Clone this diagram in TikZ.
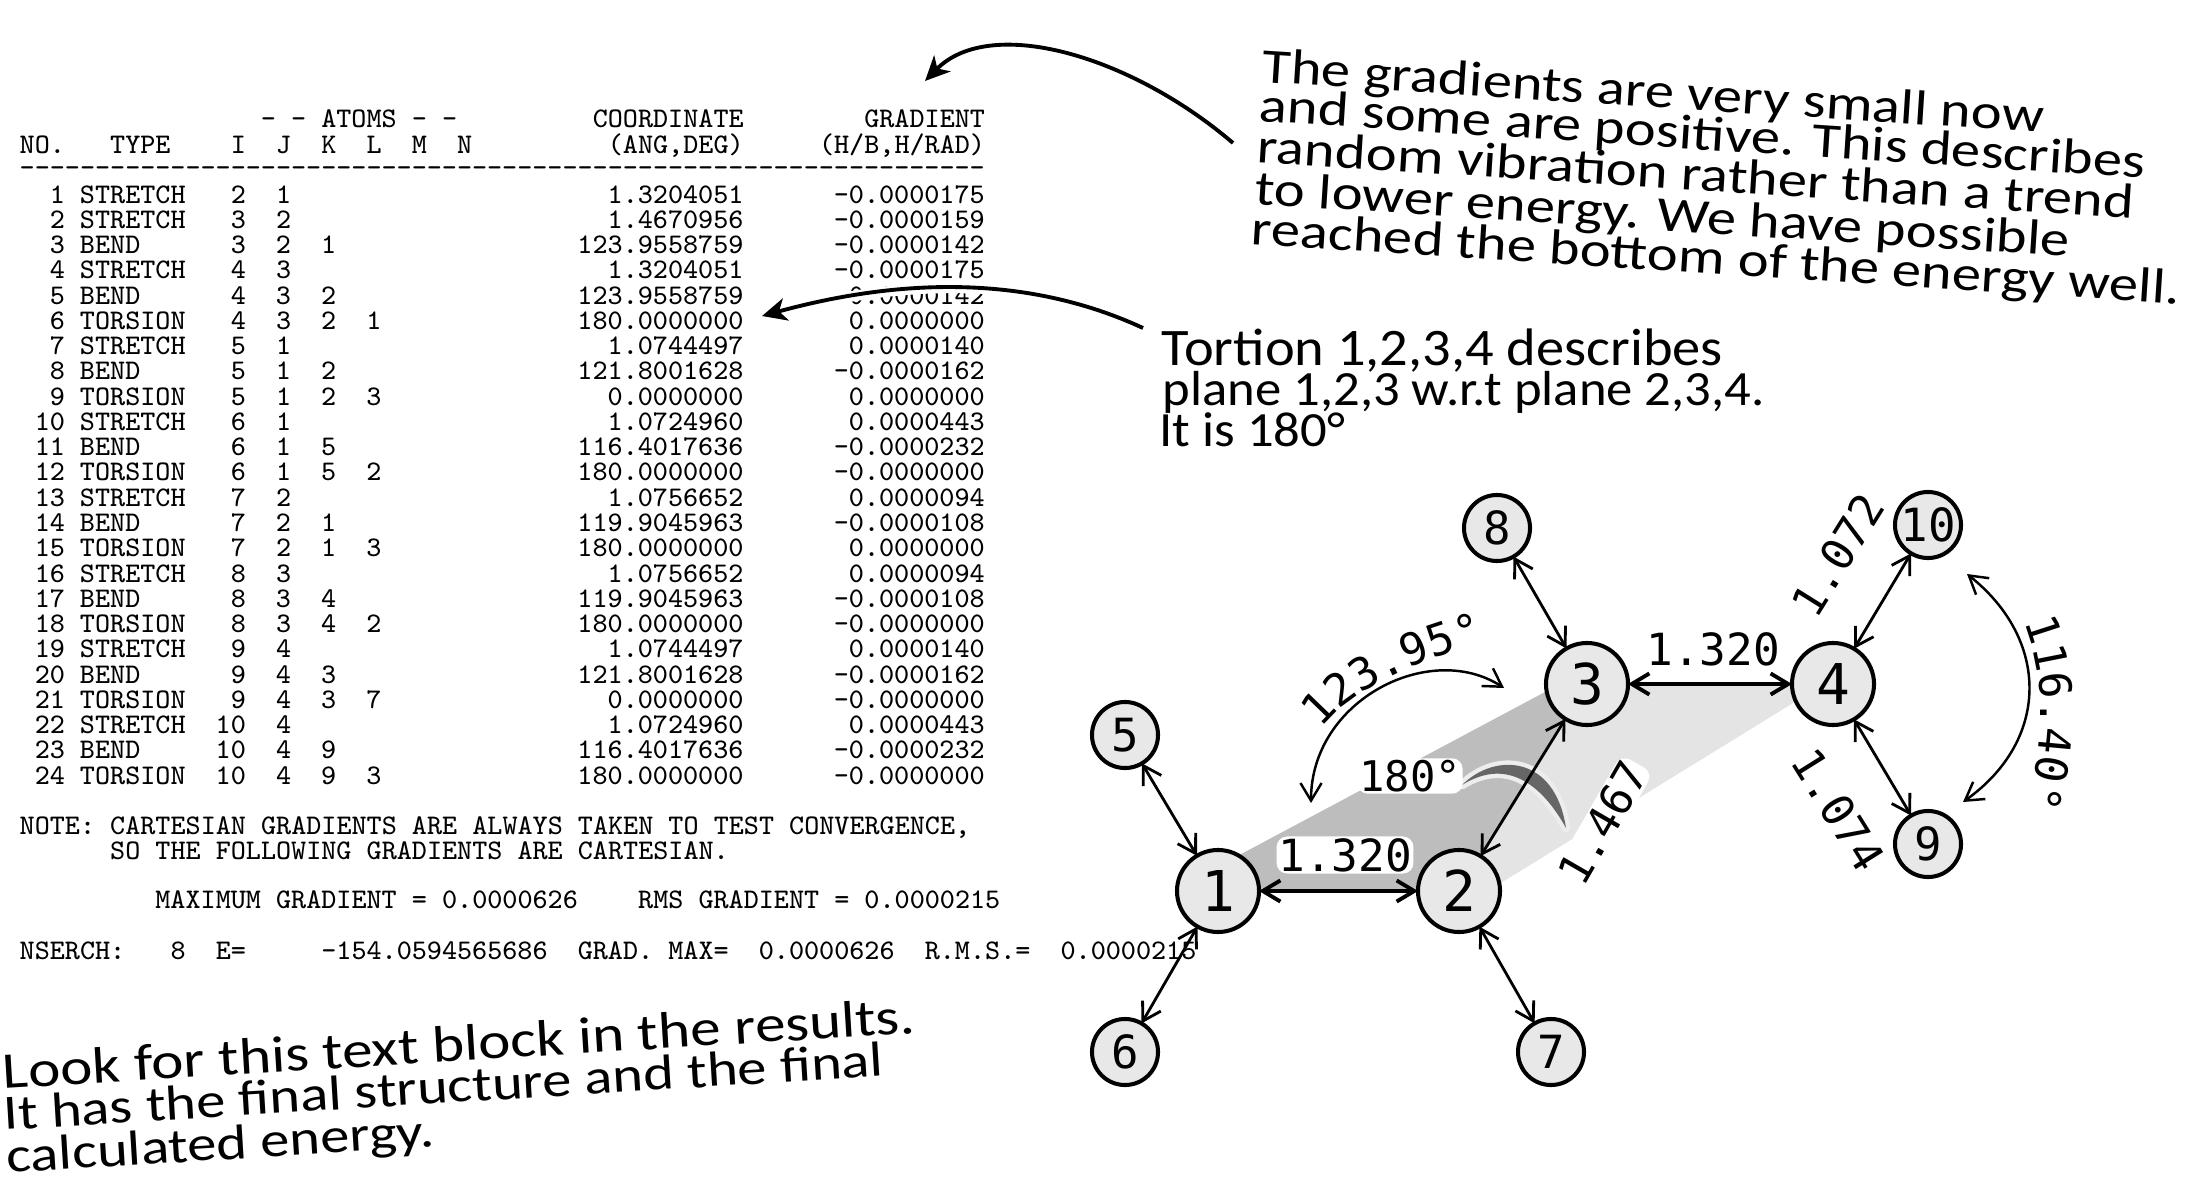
\documentclass[tikz,border=0pt]{standalone}
\usepackage{fontspec}
\usetikzlibrary{arrows.meta}
\usetikzlibrary{backgrounds}
\usetikzlibrary{decorations.text}
\newfontfamily\handfont[FakeStretch=1.19]{Carlito}
\newfontfamily\handtight[FakeStretch=1.07]{Carlito}
\newfontfamily\labelfont{DejaVu Sans Mono}
\definecolor{atomfill}{HTML}{E8E8E8}
\definecolor{planedark}{HTML}{BDBDBD}
\definecolor{planelight}{HTML}{E4E4E4}
\definecolor{twistfill}{HTML}{666666}
\definecolor{twistedge}{HTML}{EDEDED}
\newlength\chw
\setlength\chw{0.1507cm}
\newcommand{\gap}[1]{\hspace*{#1\chw}}
\newcommand{\fldr}[2]{\makebox[#1\chw][r]{#2}}
\newcommand{\fldl}[2]{\makebox[#1\chw][l]{#2}}
\tikzset{
    listing/.style = {anchor=base west, inner sep=0, font=\ttfamily\fontsize{8.08}{9.5}\selectfont},
    hand/.style = {anchor=base west, inner sep=0, font=\handfont\fontsize{14}{17}\selectfont},
    handdn/.style = {hand, rotate=-3.7},
    handup/.style = {hand, rotate=3.5},
    handflat/.style = {hand, font=\handtight\fontsize{14}{17}\selectfont},
    atombig/.style = {circle, line width=1.15pt, draw=black, fill=atomfill, minimum size=0.82cm, inner sep=0, outer sep=0, font=\labelfont\fontsize{16}{18}\selectfont},
    atomsmall/.style = {circle, line width=1.15pt, draw=black, fill=atomfill, minimum size=0.66cm, inner sep=0, outer sep=0, font=\labelfont\fontsize{13}{15}\selectfont},
    bond/.style = {{Straight Barb[length=5pt,width=6pt]}-{Straight Barb[length=5pt,width=6pt]}, line width=0.8pt},
    bondthick/.style = {bond, line width=1.1pt},
    sweep/.style = {{Straight Barb[length=5pt,width=6pt]}-{Straight Barb[length=5pt,width=6pt]}, line width=0.7pt},
    pointer/.style = {-{Stealth[length=7pt,width=6.5pt,inset=2pt]}, line width=1.1pt, black},
    value/.style = {inner sep=0, font=\labelfont\fontsize{12.6}{14}\selectfont},
    valuehalo/.style = {value, fill=white, rounded corners=3pt, inner sep=0.5pt},
    along/.style = {decorate, decoration={text along path, text align=center, text={|\labelfont\fontsize{12.6}{14}\selectfont|#1}}}
}
\begin{document}
\begin{tikzpicture}[x=0.01cm,y=-0.01cm]
\useasboundingbox (0,0) rectangle (2200,1191);

% output listing
\node[listing] (head1) at (19,127.5) {\gap{16}- - ATOMS - -\gap{9}COORDINATE\gap{8}GRADIENT};
\node[listing] (head2) at (19,153.5) {NO.\gap{3}TYPE\gap{4}I\gap{2}J\gap{2}K\gap{2}L\gap{2}M\gap{2}N\gap{9}(ANG,DEG)\gap{5}(H/B,H/RAD)};
\node[listing] (rule) at (19,177) {\foreach \d in {1,...,64} {\fldl{1}{-}}};
\foreach \no/\kind/\ia/\ib/\ic/\id/\coord/\grad in {
    1/STRETCH/2/1///1.3204051/-0.0000175,
    2/STRETCH/3/2///1.4670956/-0.0000159,
    3/BEND/3/2/1//123.9558759/-0.0000142,
    4/STRETCH/4/3///1.3204051/-0.0000175,
    5/BEND/4/3/2//123.9558759/-0.0000142,
    6/TORSION/4/3/2/1/180.0000000/0.0000000,
    7/STRETCH/5/1///1.0744497/0.0000140,
    8/BEND/5/1/2//121.8001628/-0.0000162,
    9/TORSION/5/1/2/3/0.0000000/0.0000000,
    10/STRETCH/6/1///1.0724960/0.0000443,
    11/BEND/6/1/5//116.4017636/-0.0000232,
    12/TORSION/6/1/5/2/180.0000000/-0.0000000,
    13/STRETCH/7/2///1.0756652/0.0000094,
    14/BEND/7/2/1//119.9045963/-0.0000108,
    15/TORSION/7/2/1/3/180.0000000/0.0000000,
    16/STRETCH/8/3///1.0756652/0.0000094,
    17/BEND/8/3/4//119.9045963/-0.0000108,
    18/TORSION/8/3/4/2/180.0000000/-0.0000000,
    19/STRETCH/9/4///1.0744497/0.0000140,
    20/BEND/9/4/3//121.8001628/-0.0000162,
    21/TORSION/9/4/3/7/0.0000000/-0.0000000,
    22/STRETCH/10/4///1.0724960/0.0000443,
    23/BEND/10/4/9//116.4017636/-0.0000232,
    24/TORSION/10/4/9/3/180.0000000/-0.0000000}
{
    \node[listing] (row\no) at (19,{203+25.27*(\no-1)}) {\fldr{3}{\no}\gap{1}\fldl{8}{\kind}\fldr{3}{\ia}\fldr{3}{\ib}\fldr{3}{\ic}\fldr{3}{\id}\fldr{24}{\coord}\fldr{16}{\grad}};
}
\node[listing] (note1) at (19,834) {NOTE: CARTESIAN GRADIENTS ARE ALWAYS TAKEN TO TEST CONVERGENCE,};
\node[listing] (note2) at (19,859.3) {\gap{6}SO THE FOLLOWING GRADIENTS ARE CARTESIAN.};
\node[listing] (maxgrad) at (19,908.5) {\gap{9}MAXIMUM GRADIENT = 0.0000626\gap{4}RMS GRADIENT = 0.0000215};
\node[listing] (nserch) at (19,959) {NSERCH:\gap{3}8\gap{2}E=\gap{5}-154.0594565686\gap{2}GRAD. MAX=\gap{2}0.0000626\gap{2}R.M.S.=\gap{2}0.0000215};

% hand written notes
\node[handdn] (grad1) at (1261,82) {The gradients are very small now};
\node[handdn] (grad2) at (1258,121) {and some are positive. This describes};
\node[handdn] (grad3) at (1256,162) {random vibration rather than a trend};
\node[handdn] (grad4) at (1254,204) {to lower energy. We have possible};
\node[handdn] (grad5) at (1250,244) {reached the bottom of the energy well.};
\node[handflat, font=\handtight\fontsize{15}{17}\selectfont] (tort1) at (1161,365) {Tortion 1,2,3,4 describes};
\node[handflat] (tort2) at (1162,405) {plane 1,2,3 w.r.t plane 2,3,4.};
\node[handflat] (tort3) at (1159,446) {It is 180°};
\node[handup, font=\handfont\fontsize{14.6}{17}\selectfont] (look1) at (3,1089) {Look for this text block in the results.};
\node[handup] (look2) at (4,1130) {It has the final structure and the final};
\node[handup] (look3) at (7,1173) {calculated energy.};

% pointers
\coordinate (gradtail) at (1233,143);
\coordinate (gradtip) at (925,81);
\coordinate (torttail) at (1143,328);
\coordinate (torttip) at (762,316);
\draw[white, line width=3pt] (torttail) .. controls (1050,285) and (930,270) .. (torttip);
\draw[pointer] (gradtail) .. controls (1130,55) and (990,15) .. (gradtip);
\draw[pointer] (torttail) .. controls (1050,285) and (930,270) .. (torttip);

% atoms
\node[atombig] at (1218,891) (a1) {1};
\node[atombig] at (1459,891) (a2) {2};
\node[atombig] at (1587,684) (a3) {3};
\node[atombig] at (1833,684) (a4) {4};
\node[atomsmall] at (1125,735) (a5) {5};
\node[atomsmall] at (1125,1052) (a6) {6};
\node[atomsmall] at (1551,1052) (a7) {7};
\node[atomsmall] at (1497,528) (a8) {8};
\node[atomsmall] at (1928,844) (a9) {9};
\node[atomsmall] at (1928,525) (a10) {10};

\begin{pgfonlayer}{background}
\fill[planelight] (a2.center) -- (a3.center) -- (a4.center) -- (a4.205) -- (a2.10) -- cycle;
\fill[planedark] (a1.center) -- (a2.center) -- (a3.center) -- (a3.190) -- (a1.60) -- cycle;
\path[preaction={draw=twistedge, line width=2.5pt, line join=round}, fill=twistfill] (1462,785) .. controls (1495,752) and (1555,755) .. (1566,828) .. controls (1545,790) and (1510,755) .. (1462,785) -- cycle;
\end{pgfonlayer}

% bonds
\draw[bondthick] (a1) -- (a2);
\draw[bondthick] (a3) -- (a4);
\draw[bond] (a2) -- (a3);
\draw[bond] (a1) -- (a5);
\draw[bond] (a1) -- (a6);
\draw[bond] (a2) -- (a7);
\draw[bond] (a3) -- (a8);
\draw[bond] (a4) -- (a9);
\draw[bond] (a4) -- (a10);

% angle sweeps
\coordinate (bendlow) at (1311,803);
\coordinate (bendhigh) at (1504,688);
\coordinate (wagtop) at (1967,574);
\coordinate (wagbot) at (1963,802);
\draw[sweep] (bendlow) .. controls (1311,700) and (1430,640) .. (bendhigh);
\draw[sweep] (wagtop) .. controls (2050,640) and (2050,740) .. (wagbot);

% values
\node[valuehalo] (len12) at (1345,855) {1.320};
\node[value] (len34) at (1713,649) {1.320};
\node[valuehalo, rotate=60] (len23) at (1603,823) {1.467};
\node[value, rotate=58] (len410) at (1838,555) {1.072};
\node[value, rotate=-58] (len49) at (1838,810) {1.074};
\path[along={123.95°}] (1319,732) .. controls (1347,689) and (1443,649) .. (1487,644);
\path[along={116.40°}] (2020,612) .. controls (2047,670) and (2047,750) .. (2022,815);
\node[valuehalo, font=\labelfont\fontsize{12}{14}\selectfont] (ang180) at (1410,776) {180°};
\end{tikzpicture}
\end{document}
